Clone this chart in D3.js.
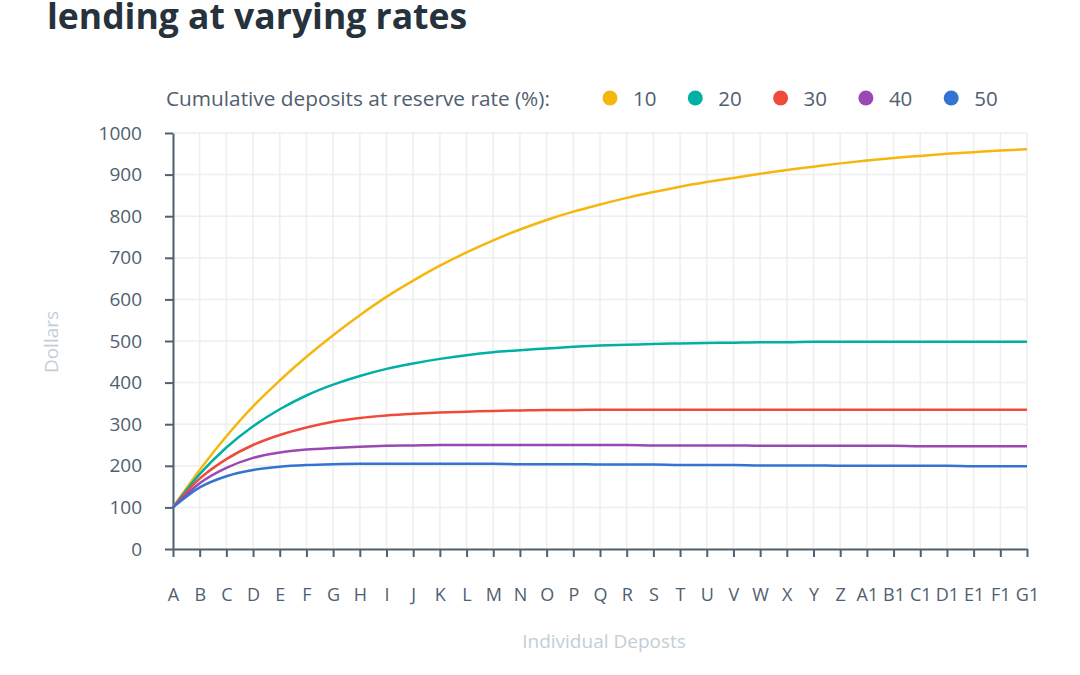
<!DOCTYPE html>
<html>
<head>
<meta charset="utf-8">
<script src="https://cdnjs.cloudflare.com/ajax/libs/d3/7.8.5/d3.min.js"></script>
<style>
  body { margin: 0; background: #fff; }
  svg { display: block; font-family: "Open Sans", sans-serif; }
</style>
</head>
<body>
<svg class="chart" width="1080" height="675"></svg>
<script>
// categories along the x axis
var deposits = ["A","B","C","D","E","F","G","H","I","J","K","L","M","N","O","P","Q","R","S","T","U","V","W","X","Y","Z","A1","B1","C1","D1","E1","F1","G1"];

// cumulative deposits per reserve rate
var rate10 = [100,190,271,343,405,462,514,562,606,645,681,713,742,768,791,811,828,844,858,871,882,892,902,911,919,927,934,940,945,950,954,958,961];
var rate20 = [100,180,244,295,336,369,395,416,433,446,457,466,473,478,482,486,489,491,493,494,495,496,497,497,498,498,498,498,498,498,498,498,498];
var rate30 = [100,169,216,250,274,292,306,315,321,325,328,330,332,333,334,334,335,335,335,335,335,335,335,335,335,335,335,335,335,335,335,335,335];
var rate40 = [100,158,195,219,232,239,243,246,248,249,250,250,250,250,250,250,250,250,249,249,249,249,248,248,248,248,248,248,247,247,247,247,247];
var rate50 = [100,148,175,190,198,202,204,205,205,205,205,205,205,204,204,204,203,203,203,202,202,202,201,201,201,200,200,200,200,200,199,199,199];

var rateNames = ["10","20","30","40","50"];
var rateColors = ["#f5b70e","#00b0a4","#ef4b3b","#9b47b4","#3373d1"];
var yTicks = [0,100,200,300,400,500,600,700,800,900,1000];

var series = [rate10, rate20, rate30, rate40, rate50];

var svg = d3.select(".chart");
var axisColor = "#506070";

var x = d3.scalePoint().domain(deposits).range([173, 1027]);
var y = d3.scaleLinear().domain([0, 1000]).range([549, 133]);

//Title (first line is off the top of the picture)
svg.append("text")
  .attr("x", 47)
  .attr("y", 29)
  .attr("font-size", 35.5)
  .attr("font-weight", 700)
  .attr("fill", "#26323c")
  .text("lending at varying rates");

//Gridlines
var grid = svg.append("g").attr("class", "grid");
grid.selectAll("line.v")
  .data(deposits)
  .enter().append("line")
  .attr("class", "v")
  .attr("x1", function(d) { return x(d); })
  .attr("x2", function(d) { return x(d); })
  .attr("y1", y(1000))
  .attr("y2", y(0))
  .attr("stroke", "#eeeeee")
  .attr("stroke-width", 1.5);

grid.selectAll("line.h")
  .data(yTicks)
  .enter().append("line")
  .attr("class", "h")
  .attr("x1", x.range()[0])
  .attr("x2", x.range()[1])
  .attr("y1", function(d) { return y(d); })
  .attr("y2", function(d) { return y(d); })
  .attr("stroke", "#eeeeee")
  .attr("stroke-width", 1.5);

//Axes
var xAxis = svg.append("g")
  .attr("transform", "translate(0," + y(0) + ")")
  .call(d3.axisBottom(x).tickSize(8).tickPadding(31).tickSizeOuter(0));

var yAxis = svg.append("g")
  .attr("transform", "translate(" + x.range()[0] + ",0)")
  .call(d3.axisLeft(y).tickValues(yTicks).tickFormat(d3.format("d"))
    .tickSize(8).tickPadding(23).tickSizeOuter(0));

[xAxis, yAxis].forEach(function(a) {
  a.select(".domain").attr("stroke", axisColor).attr("stroke-width", 2);
  a.selectAll(".tick line").attr("stroke", axisColor).attr("stroke-width", 2);
  a.selectAll(".tick text")
    .attr("fill", axisColor)
    .attr("font-family", "Open Sans")
    .attr("font-size", 18);
});
yAxis.selectAll(".tick text").attr("font-size", 19);

//Axis titles
svg.append("text")
  .attr("transform", "translate(" + [58, 342] + ") rotate(-90)")
  .attr("text-anchor", "middle")
  .attr("font-size", 19)
  .attr("fill", "#c3ced5")
  .text("Dollars");

svg.append("text")
  .attr("x", 604)
  .attr("y", 648)
  .attr("text-anchor", "middle")
  .attr("font-size", 19)
  .attr("fill", "#c3ced5")
  .text("Individual Deposts");

//Lines
var line = d3.line()
  .x(function(d, i) { return x(deposits[i]); })
  .y(function(d) { return y(d); })
  .curve(d3.curveMonotoneX);

svg.append("g").attr("class", "lines")
  .selectAll("path")
  .data(series)
  .enter().append("path")
  .attr("d", line)
  .attr("fill", "none")
  .attr("stroke", function(d, i) { return rateColors[i]; })
  .attr("stroke-width", 2.5);

//Legend
var legend = svg.append("g").attr("class", "legend");
legend.append("text")
  .attr("x", 166)
  .attr("y", 106)
  .attr("font-size", 20.8)
  .attr("fill", axisColor)
  .text("Cumulative deposits at reserve rate (%):");

var items = legend.selectAll("g.item")
  .data(rateNames)
  .enter().append("g")
  .attr("class", "item")
  .attr("transform", function(d, i) { return "translate(" + [610 + i * 85.3, 98] + ")"; });

items.append("circle")
  .attr("r", 7.5)
  .attr("fill", function(d, i) { return rateColors[i]; });

items.append("text")
  .attr("x", 23)
  .attr("y", 8)
  .attr("font-size", 20.5)
  .attr("fill", axisColor)
  .text(function(d) { return d; });
</script>
</body>
</html>
